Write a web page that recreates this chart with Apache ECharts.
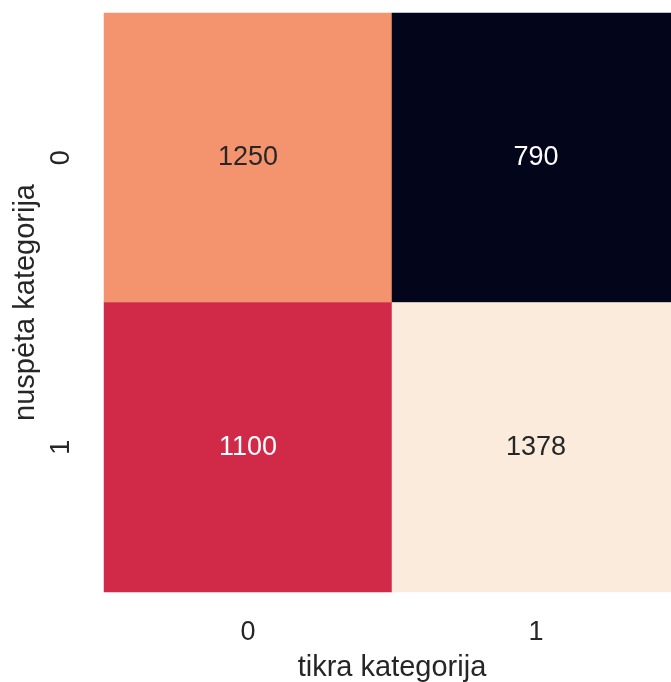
<!DOCTYPE html>
<html>
<head>
<meta charset="utf-8">
<script src="https://cdn.jsdelivr.net/npm/echarts@6/dist/echarts.min.js"></script>
<style>
  html, body { margin: 0; padding: 0; background: #fff; }
  #chart { width: 671px; height: 682px; }
</style>
</head>
<body>
<div id="chart"></div>
<script>
// ašių kategorijos
const trueCats = ['0', '1'];      // tikra kategorija (x)
const predCats = ['0', '1'];      // nuspėta kategorija (y)
// reikšmės: eilutė = nuspėta, stulpelis = tikra
const row0 = [1250, 790];
const row1 = [1100, 1378];
// rocket paletė
const rocket = ['#03051a', '#35193e', '#701f57', '#ad1759', '#e13342', '#f37651', '#f6b48f', '#faebdd'];

const rows = [row0, row1];
const cells = [];
rows.forEach((r, yi) => {
  r.forEach((v, xi) => cells.push([xi, yi, v]));
});
const allVals = row0.concat(row1);
const vMin = Math.min(...allVals), vMax = Math.max(...allVals);

// šviesus tekstas ant tamsių langelių
const data = cells.map(c => {
  const t = (c[2] - vMin) / (vMax - vMin);
  return {
    value: c,
    label: { color: t < 0.6 ? '#ffffff' : '#262626' }
  };
});

const font = "'Liberation Sans', Arial, sans-serif";
const chart = echarts.init(document.getElementById('chart'));
chart.setOption({
  animation: false,
  grid: { left: 104, top: 13, width: 576, height: 579, containLabel: false, outerBoundsMode: 'none' },
  xAxis: {
    type: 'category',
    data: trueCats,
    name: 'tikra kategorija',
    nameLocation: 'middle',
    nameGap: 61,
    nameTextStyle: { fontSize: 29, color: '#262626', fontFamily: font },
    axisLine: { show: false },
    axisTick: { show: false },
    splitLine: { show: false },
    axisLabel: { fontSize: 27, color: '#262626', margin: 27, fontFamily: font }
  },
  yAxis: {
    type: 'category',
    data: predCats,
    inverse: true,
    name: 'nuspėta kategorija',
    nameLocation: 'middle',
    nameRotate: 90,
    nameGap: 64,
    nameTextStyle: { fontSize: 29, color: '#262626', fontFamily: font },
    axisLine: { show: false },
    axisTick: { show: false },
    splitLine: { show: false },
    axisLabel: { fontSize: 27, color: '#262626', margin: 29, rotate: 90, fontFamily: font }
  },
  visualMap: {
    show: false,
    min: vMin,
    max: vMax,
    calculable: false,
    inRange: { color: rocket }
  },
  series: [{
    type: 'heatmap',
    data: data,
    label: {
      show: true,
      fontSize: 27,
      fontFamily: font,
      formatter: p => String(p.value[2])
    },
    itemStyle: { borderWidth: 0 }
  }]
});
</script>
</body>
</html>
